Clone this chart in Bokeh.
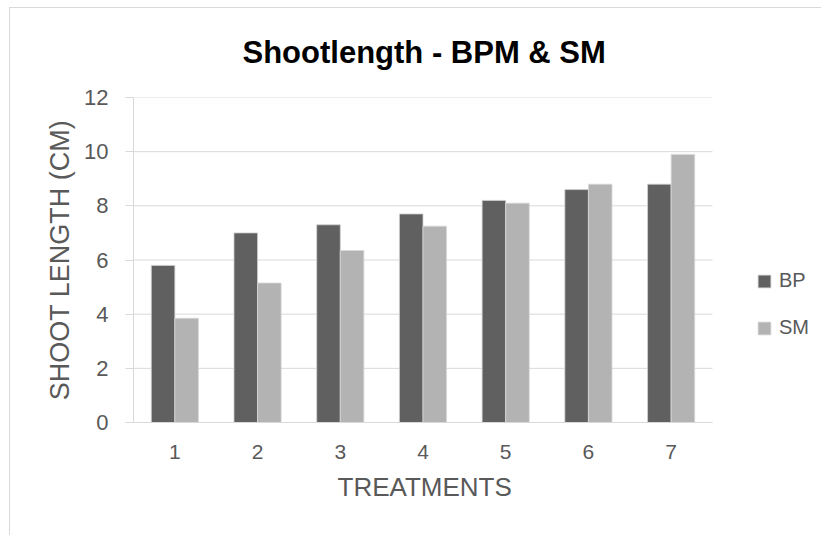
import numpy as np
from bokeh.plotting import figure
from bokeh.models import ColumnDataSource, Range1d, Legend, LegendItem, FixedTicker, Title
from bokeh.embed import file_html
from bokeh.resources import INLINE

treatments = ["1", "2", "3", "4", "5", "6", "7"]
bp = [5.8, 7.0, 7.3, 7.7, 8.2, 8.6, 8.8]
sm = [3.85, 5.15, 6.35, 7.25, 8.1, 8.8, 9.9]
y_ticks = [0, 2, 4, 6, 8, 10, 12]
series_names = ["BP", "SM"]
series_colors = ["#606060", "#b3b3b3"]
title_text = "Shootlength - BPM & SM"
x_title = "TREATMENTS"
y_title = "SHOOT LENGTH (CM)"

FONT = "Liberation Sans"
TXT = "#595959"
GRID = "#d9d9d9"

n = len(treatments)
pos = np.arange(1, n + 1)
bw = 0.285
src = ColumnDataSource(dict(x_bp=pos - bw / 2, x_sm=pos + bw / 2, bp=bp, sm=sm))

# frame extends to the right edge so that the legend (outside the plotting area) is not clipped
p = figure(x_range=Range1d(0.5, 8.83), y_range=Range1d(0, 12),
           width=812, height=528, output_backend="svg", toolbar_location=None,
           min_border_left=123, min_border_right=0, min_border_top=89, min_border_bottom=114)
p.styles = {"border-left": "1px solid #d9d9d9", "border-top": "1px solid #d9d9d9",
            "margin-left": "9px", "margin-top": "7px"}
p.outline_line_color = None
p.xgrid.grid_line_color = None
p.ygrid.grid_line_color = None

# horizontal gridlines limited to the category area
p.segment(x0=[0.5] * len(y_ticks), x1=[n + 0.5] * len(y_ticks), y0=y_ticks, y1=y_ticks,
          line_color=GRID, line_width=1, level="underlay")

r1 = p.vbar(x="x_bp", top="bp", width=bw, source=src,
            fill_color=series_colors[0], line_color="#d0d0d0", line_width=0.8)
r2 = p.vbar(x="x_sm", top="sm", width=bw, source=src,
            fill_color=series_colors[1], line_color="#d8d8d8", line_width=0.8)

p.title.text = title_text
p.title.align = "left"
p.title.offset = 109
p.title.vertical_align = "top"
p.title.text_font = FONT
p.title.text_font_size = "31px"
p.title.text_font_style = "bold"
p.title.text_color = "#000000"
p.title.standoff = 51

p.yaxis.ticker = FixedTicker(ticks=y_ticks)
p.yaxis.axis_line_color = GRID
p.yaxis.major_tick_line_color = GRID
p.yaxis.major_tick_in = 0
p.yaxis.major_tick_out = 8
p.yaxis.minor_tick_line_color = None
p.yaxis.major_label_text_font = FONT
p.yaxis.major_label_text_font_size = "22px"
p.yaxis.major_label_text_color = TXT
p.yaxis.major_label_standoff = 17
p.yaxis.axis_label = y_title
p.yaxis.axis_label_text_font = FONT
p.yaxis.axis_label_text_font_size = "27px"
p.yaxis.axis_label_text_font_style = "normal"
p.yaxis.axis_label_text_color = TXT
p.yaxis.axis_label_standoff = 6

xax = p.below[0]
xax.ticker = FixedTicker(ticks=list(pos))
xax.major_label_overrides = {int(i): t for i, t in zip(pos, treatments)}
xax.bounds = (0.5, n + 0.5)
xax.axis_line_color = GRID
xax.major_tick_line_color = None
xax.minor_tick_line_color = None
xax.major_tick_out = 0
xax.major_tick_in = 0
xax.major_label_text_font = FONT
xax.major_label_text_font_size = "21px"
xax.major_label_text_color = TXT
xax.major_label_standoff = 22

# x-axis title, centred on the category area (not on the wider frame)
xt = Title(text=x_title, align="left", offset=204, text_font=FONT, text_font_size="26px",
           text_font_style="normal", text_color=TXT, standoff=17)
p.add_layout(xt, "below")

legend = Legend(items=[LegendItem(label=series_names[0], renderers=[r1]),
                       LegendItem(label=series_names[1], renderers=[r2])],
                location=(623, 83), orientation="vertical",
                glyph_width=16, glyph_height=16, label_height=16, spacing=24,
                padding=0, margin=0, label_standoff=7,
                label_text_font=FONT, label_text_font_size="20px", label_text_color=TXT,
                border_line_color=None, background_fill_alpha=0)
p.add_layout(legend, "center")

open("out.html", "w").write(file_html(p, INLINE))
